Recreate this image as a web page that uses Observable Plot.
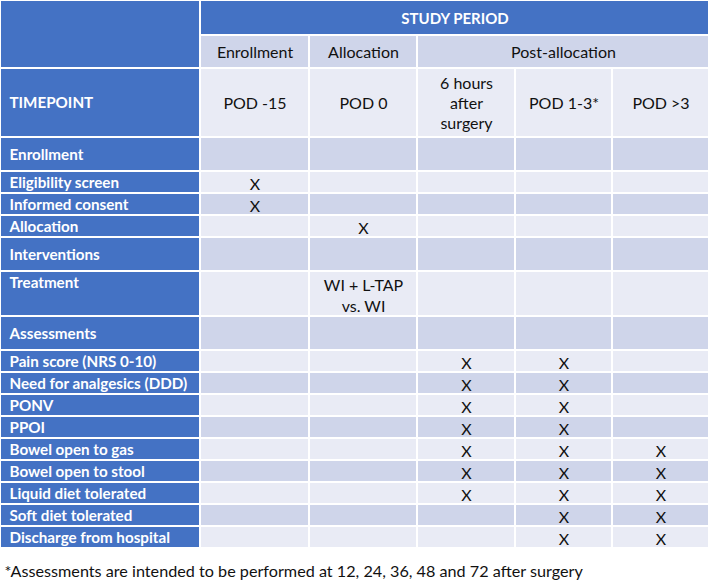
<!DOCTYPE html>
<html><head><meta charset="utf-8">
<script src="https://cdn.jsdelivr.net/npm/d3@7"></script>
<script src="https://cdn.jsdelivr.net/npm/@observablehq/plot@0.6"></script>
<style>body{margin:0;background:#fff;}</style>
</head><body><div id="chart"></div>
<script>
// ---- data ----
const title = "STUDY PERIOD";
const periods = ["Enrollment", "Allocation", "Post-allocation"];
const periodSpans = [1, 1, 3];
const timepointLabel = "TIMEPOINT";
const timepoints = ["POD -15", "POD 0", "6 hours\nafter\nsurgery", "POD 1-3*", "POD >3"];
const rowLabels = [
  "Enrollment", "Eligibility screen", "Informed consent", "Allocation",
  "Interventions", "Treatment", "Assessments",
  "Pain score (NRS 0-10)", "Need for analgesics (DDD)", "PONV", "PPOI",
  "Bowel open to gas", "Bowel open to stool", "Liquid diet tolerated",
  "Soft diet tolerated", "Discharge from hospital"
];
const sectionRows = ["Enrollment", "Interventions", "Assessments"];
const cellValues = [
  ["", "", "", "", ""],
  ["X", "", "", "", ""],
  ["X", "", "", "", ""],
  ["", "X", "", "", ""],
  ["", "", "", "", ""],
  ["", "WI + L-TAP\nvs. WI", "", "", ""],
  ["", "", "", "", ""],
  ["", "", "X", "X", ""],
  ["", "", "X", "X", ""],
  ["", "", "X", "X", ""],
  ["", "", "X", "X", ""],
  ["", "", "X", "X", "X"],
  ["", "", "X", "X", "X"],
  ["", "", "X", "X", "X"],
  ["", "", "", "X", "X"],
  ["", "", "", "X", "X"]
];
const footnote = "*Assessments are intended to be performed at 12, 24, 36, 48 and 72 after surgery";

// ---- layout ----
const W = 709, H = 584;
const blue = "#4472C4", dark = "#CFD5EA", light = "#E9EBF5";
const colEdges = [0, 200, 309, 417, 515, 612, 709];
const titleH = 35, periodH = 33, timepointH = 69, sectionH = 34, lineH = 22, extraLineH = 23;

const cells = [], boldLeft = [], boldCenter = [], normal = [];
// title row
cells.push({x1: 0, x2: colEdges[1], y1: 0, y2: titleH + periodH, fill: blue});
cells.push({x1: colEdges[1], x2: W, y1: 0, y2: titleH, fill: blue});
boldCenter.push({x: (colEdges[1] + W) / 2, y: titleH / 2 + 1, text: title});
// period row
let y = titleH, c = 1;
periods.forEach((p, i) => {
  const x1 = colEdges[c], x2 = colEdges[c + periodSpans[i]];
  c += periodSpans[i];
  cells.push({x1, x2, y1: y, y2: y + periodH, fill: dark});
  normal.push({x: (x1 + x2) / 2, y: y + periodH / 2 + 1, text: p});
});
y += periodH;
// timepoint row
cells.push({x1: 0, x2: colEdges[1], y1: y, y2: y + timepointH, fill: blue});
boldLeft.push({x: 9, y: y + timepointH / 2, text: timepointLabel});
timepoints.forEach((t, j) => {
  const x1 = colEdges[j + 1], x2 = colEdges[j + 2];
  cells.push({x1, x2, y1: y, y2: y + timepointH, fill: light});
  normal.push({x: (x1 + x2) / 2, y: y + timepointH / 2, text: t, lh: 1.25});
});
y += timepointH;
// body rows
rowLabels.forEach((label, i) => {
  const vals = cellValues[i];
  const lines = Math.max(...vals.map(v => v.split("\n").length));
  const h = sectionRows.includes(label) ? sectionH : lineH + (lines - 1) * extraLineH;
  const fill = i % 2 === 0 ? dark : light;
  cells.push({x1: 0, x2: colEdges[1], y1: y, y2: y + h, fill: blue});
  boldLeft.push({x: 9, y: lines > 1 ? y + lineH / 2 + 1 : y + h / 2 + 1, text: label});
  vals.forEach((v, j) => {
    const x1 = colEdges[j + 1], x2 = colEdges[j + 2];
    cells.push({x1, x2, y1: y, y2: y + h, fill});
    if (v) normal.push({x: (x1 + x2) / 2, y: y + h / 2 + 1, text: v, lh: 1.3});
  });
  y += h;
});

const font = "Lato, 'Open Sans', sans-serif";
const chart = Plot.plot({
  width: W, height: H,
  margin: 0,
  x: {domain: [0, W], range: [0, W], axis: null},
  y: {domain: [0, H], range: [0, H], axis: null},
  color: {type: "identity"},
  style: {fontFamily: font, background: "#fff"},
  marks: [
    Plot.rect(cells, {x1: "x1", x2: "x2", y1: "y1", y2: "y2", fill: "fill", inset: 1}),
    Plot.text(boldCenter, {x: "x", y: "y", text: "text", fill: "white", fontWeight: "bold", fontSize: 15}),
    Plot.text(boldLeft, {x: "x", y: "y", text: "text", fill: "white", fontWeight: "bold", fontSize: 15.2, textAnchor: "start"}),
    Plot.text(normal.filter(d => !d.lh), {x: "x", y: "y", text: "text", fill: "#111", fontSize: 16}),
    Plot.text(normal.filter(d => d.lh === 1.25), {x: "x", y: "y", text: "text", fill: "#111", fontSize: 16, lineHeight: 1.25}),
    Plot.text(normal.filter(d => d.lh === 1.3), {x: "x", y: "y", text: "text", fill: "#111", fontSize: 16, lineHeight: 1.3}),
    Plot.text([{x: 4, y: 571, text: footnote}], {x: "x", y: "y", text: "text", fill: "#111", fontSize: 16.2, textAnchor: "start"})
  ]
});
document.getElementById("chart").appendChild(chart);
</script>
</body></html>
